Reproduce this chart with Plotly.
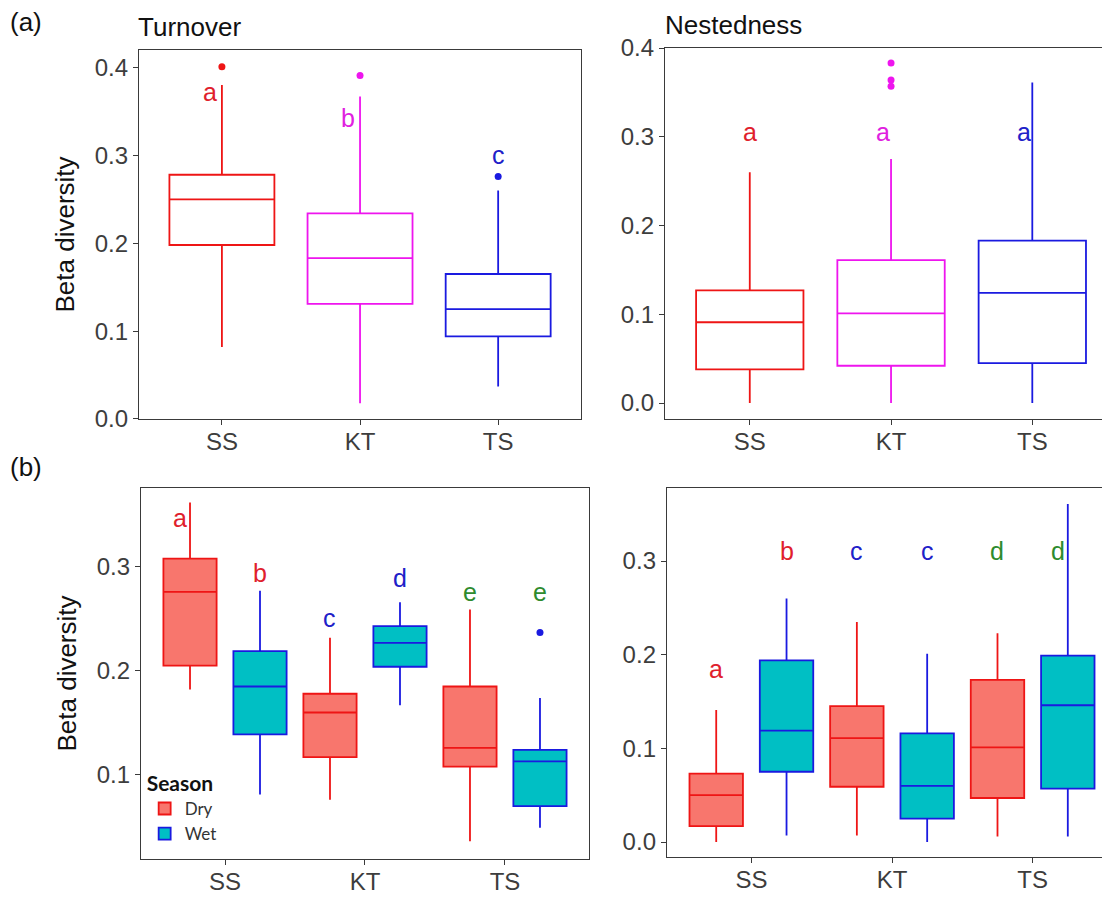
import plotly.graph_objects as go

sites = ["SS", "KT", "TS"]

# (a) Turnover, one box per site
turn_q1 = [0.198, 0.131, 0.094]
turn_med = [0.250, 0.183, 0.125]
turn_q3 = [0.278, 0.234, 0.165]
turn_lo = [0.082, 0.018, 0.037]
turn_hi = [0.380, 0.367, 0.260]
turn_out = [[0.401], [0.391], [0.276]]
turn_letters = ["a", "b", "c"]
turn_letter_y = [0.372, 0.343, 0.300]

# (a) Nestedness, one box per site
nest_q1 = [0.038, 0.042, 0.045]
nest_med = [0.091, 0.101, 0.124]
nest_q3 = [0.127, 0.161, 0.183]
nest_lo = [0.000, 0.000, 0.000]
nest_hi = [0.260, 0.275, 0.361]
nest_out = [[], [0.383, 0.364, 0.357], []]
nest_letters = ["a", "a", "a"]
nest_letter_y = [0.305, 0.305, 0.305]

# (b) Turnover by season
turn_dry_q1 = [0.205, 0.117, 0.108]
turn_dry_med = [0.276, 0.160, 0.126]
turn_dry_q3 = [0.308, 0.178, 0.185]
turn_dry_lo = [0.182, 0.076, 0.036]
turn_dry_hi = [0.362, 0.232, 0.259]
turn_dry_out = [[], [], []]
turn_wet_q1 = [0.139, 0.204, 0.070]
turn_wet_med = [0.185, 0.227, 0.113]
turn_wet_q3 = [0.219, 0.243, 0.124]
turn_wet_lo = [0.081, 0.167, 0.049]
turn_wet_hi = [0.277, 0.266, 0.174]
turn_wet_out = [[], [], [0.237]]
turn_dry_letters = ["a", "c", "e"]
turn_dry_letter_y = [0.347, 0.251, 0.276]
turn_wet_letters = ["b", "d", "e"]
turn_wet_letter_y = [0.294, 0.289, 0.276]

# (b) Nestedness by season
nest_dry_q1 = [0.017, 0.059, 0.047]
nest_dry_med = [0.050, 0.111, 0.101]
nest_dry_q3 = [0.073, 0.145, 0.173]
nest_dry_lo = [0.000, 0.007, 0.006]
nest_dry_hi = [0.141, 0.235, 0.223]
nest_dry_out = [[], [], []]
nest_wet_q1 = [0.075, 0.025, 0.057]
nest_wet_med = [0.119, 0.060, 0.146]
nest_wet_q3 = [0.194, 0.116, 0.199]
nest_wet_lo = [0.007, 0.000, 0.006]
nest_wet_hi = [0.260, 0.201, 0.361]
nest_wet_out = [[], [], []]
nest_dry_letters = ["a", "c", "d"]
nest_dry_letter_y = [0.185, 0.311, 0.311]
nest_wet_letters = ["b", "c", "d"]
nest_wet_letter_y = [0.311, 0.311, 0.311]

site_colors = ["#ee1515", "#ee15ee", "#1a1ae0"]
letter_colors_a = ["#e0202c", "#e020e0", "#2020c8"]
letter_colors_b = ["#e0202c", "#2020c8", "#2e8b2e"]
dry_line, dry_fill = "#ee1515", "#F8766D"
wet_line, wet_fill = "#1a1ae0", "#00BFC4"

FONT = "Liberation Sans, Arial, sans-serif"
W, H = 1102, 889  # page body margin of 8px takes the rest

fig = go.Figure()


def add_box(axn, group, site, q1, med, q3, lo, hi, out, lc, fc,
            name=None, legend=False):
    fig.add_trace(go.Box(
        x=[site], q1=[q1], median=[med], q3=[q3],
        lowerfence=[lo], upperfence=[hi],
        y=[out] if out else None, orientation="v",
        boxpoints="outliers", jitter=0, pointpos=0,
        marker=dict(color=lc, size=7), line=dict(color=lc, width=1.8),
        fillcolor=fc, whiskerwidth=0, name=name, legendgroup=name,
        offsetgroup=group, alignmentgroup="a" + axn,
        xaxis="x" + axn, yaxis="y" + axn, showlegend=legend,
        hoverinfo="skip"))


for i, s in enumerate(sites):
    add_box("", "all", s, turn_q1[i], turn_med[i], turn_q3[i], turn_lo[i],
            turn_hi[i], turn_out[i], site_colors[i], "rgba(0,0,0,0)")
    add_box("2", "all", s, nest_q1[i], nest_med[i], nest_q3[i], nest_lo[i],
            nest_hi[i], nest_out[i], site_colors[i], "rgba(0,0,0,0)")
    add_box("3", "Dry", s, turn_dry_q1[i], turn_dry_med[i], turn_dry_q3[i],
            turn_dry_lo[i], turn_dry_hi[i], turn_dry_out[i], dry_line,
            dry_fill, "Dry", i == 0)
    add_box("3", "Wet", s, turn_wet_q1[i], turn_wet_med[i], turn_wet_q3[i],
            turn_wet_lo[i], turn_wet_hi[i], turn_wet_out[i], wet_line,
            wet_fill, "Wet", i == 0)
    add_box("4", "Dry", s, nest_dry_q1[i], nest_dry_med[i], nest_dry_q3[i],
            nest_dry_lo[i], nest_dry_hi[i], nest_dry_out[i], dry_line,
            dry_fill, "Dry")
    add_box("4", "Wet", s, nest_wet_q1[i], nest_wet_med[i], nest_wet_q3[i],
            nest_wet_lo[i], nest_wet_hi[i], nest_wet_out[i], wet_line,
            wet_fill, "Wet")

annotations = []


def letter(axn, x, y, text, color, xshift=0):
    annotations.append(dict(
        x=x, y=y, xref="x" + axn, yref="y" + axn, text=text, showarrow=False,
        font=dict(family=FONT, size=25, color=color), xshift=xshift))


for i in range(3):
    letter("", i, turn_letter_y[i], turn_letters[i], letter_colors_a[i],
           -12 if i < 2 else 0)
    letter("2", i, nest_letter_y[i], nest_letters[i], letter_colors_a[i],
           -8 if i > 0 else 0)
    letter("3", i - 0.25, turn_dry_letter_y[i], turn_dry_letters[i],
           letter_colors_b[i], -10 if i == 0 else 0)
    letter("3", i + 0.25, turn_wet_letter_y[i], turn_wet_letters[i],
           letter_colors_b[i])
    letter("4", i - 0.25, nest_dry_letter_y[i], nest_dry_letters[i],
           letter_colors_b[i])
    letter("4", i + 0.25, nest_wet_letter_y[i], nest_wet_letters[i],
           letter_colors_b[i], -10 if i == 2 else 0)

for x, y, text in [(0, 14, "(a)"), (0, 459, "(b)"),
                   (128, 19, "Turnover"), (655, 17, "Nestedness")]:
    annotations.append(dict(
        x=x / W, y=1 - y / H, xref="paper", yref="paper", text=text,
        showarrow=False, xanchor="left", yanchor="middle",
        font=dict(family=FONT, size=26, color="#111111")))

axis_style = dict(
    showline=True, mirror=True, linecolor="#3a3a3a", linewidth=1.4,
    ticks="outside", ticklen=5, tickwidth=1.4, tickcolor="#3a3a3a",
    showgrid=False, zeroline=False, automargin=False,
    tickfont=dict(family=FONT, size=24, color="#3d3d3d"))
x_style = dict(type="category", ticklabelstandoff=-4, **axis_style)
y_style = dict(dtick=0.1, tickformat=".1f", **axis_style)
ytitle = dict(text="Beta diversity", font=dict(family=FONT, size=26,
                                                color="#111111"), standoff=12)

fig.update_layout(
    width=W, height=H,
    margin=dict(l=0, r=0, t=0, b=0, autoexpand=False),
    paper_bgcolor="white", plot_bgcolor="white",
    boxmode="group", boxgap=0, boxgroupgap=0.24,
    xaxis=dict(domain=[0.1189, 0.5200], range=[-0.6, 2.6], anchor="y",
               **x_style),
    yaxis=dict(domain=[0.5377, 0.9528], range=[0, 0.42], anchor="x",
               title=ytitle, **y_style),
    xaxis2=dict(domain=[0.5962, 1.0], range=[-0.6, 2.55], anchor="y2",
                **x_style),
    yaxis2=dict(domain=[0.5377, 0.9550], range=[-0.018, 0.4], anchor="x2",
                **y_style),
    xaxis3=dict(domain=[0.1207, 0.5272], range=[-0.6, 2.6], anchor="y3",
                **x_style),
    yaxis3=dict(domain=[0.0427, 0.4601], range=[0.019, 0.376], anchor="x3",
                title=ytitle, **y_style),
    xaxis4=dict(domain=[0.5980, 1.0], range=[-0.6, 2.55], anchor="y4",
                **x_style),
    yaxis4=dict(domain=[0.0450, 0.4601], range=[-0.016, 0.378], anchor="x4",
                **y_style),
    legend=dict(x=0.124, y=0.150, xanchor="left", yanchor="top",
                bgcolor="rgba(0,0,0,0)", tracegroupgap=0,
                title=dict(text="<b>Season</b>",
                           font=dict(family="Lato, Open Sans, sans-serif",
                                     size=21, color="#111111")),
                font=dict(family="Lato, Open Sans, sans-serif", size=17,
                          color="#333333")),
    annotations=annotations,
)

fig.write_html("out.html")
